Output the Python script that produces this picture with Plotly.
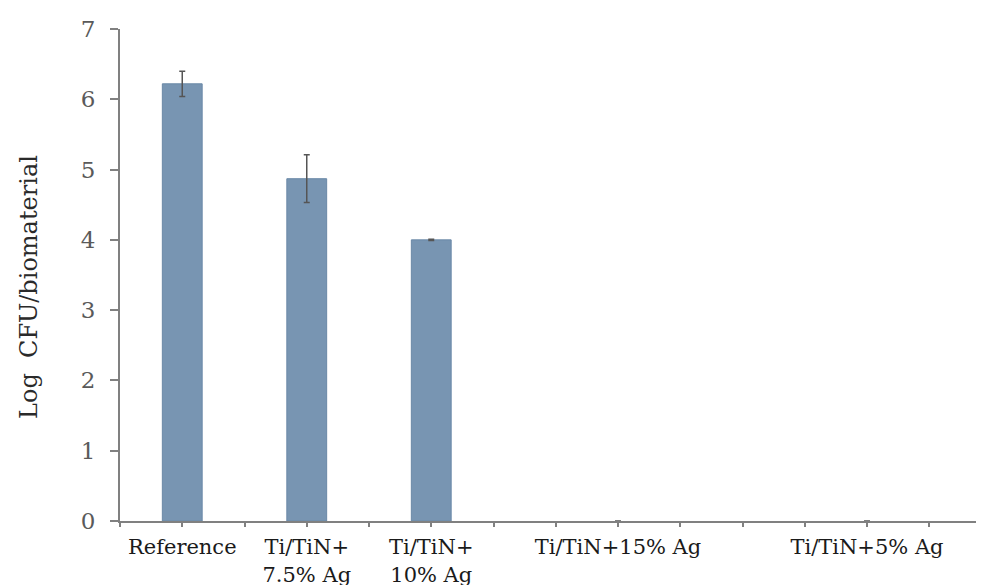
import plotly.graph_objects as go

categories = ["Reference", "Ti/TiN+<br>7.5% Ag", "Ti/TiN+<br>10% Ag", "Ti/TiN+15% Ag", "Ti/TiN+5% Ag"]
log_cfu = [6.22, 4.87, 4.00, 0.0, 0.0]
errors = [0.18, 0.34, 0.01, None, None]

# horizontal slot of each category on the axis (layout)
positions = [0, 1, 2, 3.5, 5.5]

W, H = 984, 585
OFF = 8  # page body margin offset of the figure
ml, mt = 120 - OFF, 28.5 - OFF
mb = H - (521.5 - OFF)
px_per_unit = 124.5
xmin = -0.5
xmax = xmin + (W - ml) / px_per_unit
plot_h = H - mt - mb

outline_w = [1 if v > 0 else 0 for v in log_cfu]

fig = go.Figure()
fig.add_trace(go.Bar(
    x=positions, y=log_cfu,
    width=0.32,
    marker=dict(color="#7895B2", line=dict(color="#6A88A7", width=outline_w)),
    error_y=dict(type="data", array=errors, visible=True, color="#555555", thickness=1.5, width=3),
    showlegend=False,
))

fig.update_layout(
    width=W, height=H,
    margin=dict(l=ml, r=0, t=mt, b=mb, autoexpand=False),
    paper_bgcolor="white", plot_bgcolor="white",
    font=dict(family="DejaVu Serif", size=20, color="#222222"),
)
fig.update_xaxes(
    range=[xmin, xmax], tickmode="array", tickvals=positions, ticktext=categories,
    showline=True, linecolor="#808080", linewidth=2,
    ticks="outside", ticklen=4, tickcolor="#808080", tickwidth=1.5,
    minor=dict(ticks="outside", tick0=-0.5, dtick=0.5, ticklen=4, tickcolor="#808080", tickwidth=1.5),
    showgrid=False, zeroline=False, automargin=False,
    tickfont=dict(family="DejaVu Serif", size=21, color="#1a1a1a"),
    ticklabelstandoff=2,
)
fig.update_yaxes(
    range=[0, 7], dtick=1, tick0=0,
    showline=True, linecolor="#808080", linewidth=2,
    ticks="outside", ticklen=8, tickcolor="#808080", tickwidth=1.5,
    showgrid=False, zeroline=False, automargin=False,
    tickfont=dict(family="DejaVu Serif", size=23, color="#5a5a5a"),
    ticklabelstandoff=10,
)
fig.add_annotation(
    text="Log  CFU/biomaterial", textangle=-90,
    xref="paper", yref="paper",
    x=(29 - OFF - ml) / (W - ml), y=((521.5 - OFF) - (287 - OFF)) / plot_h,
    xanchor="center", yanchor="middle", showarrow=False,
    font=dict(family="DejaVu Serif", size=24, color="#2a2a2a"),
)
fig.write_html("out.html")
